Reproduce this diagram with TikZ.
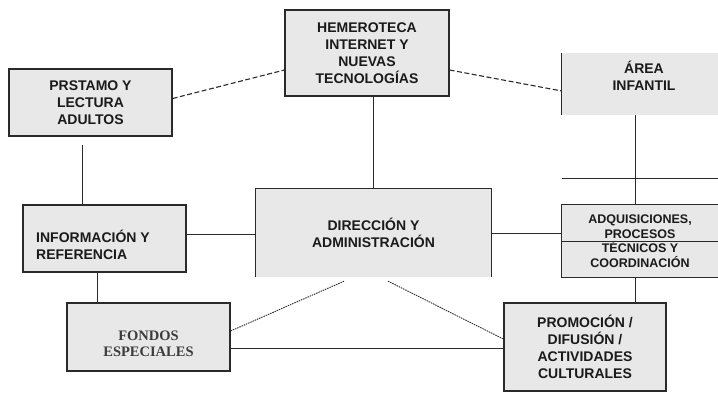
\documentclass[tikz,border=0pt]{standalone}
\usepackage{fontspec}
\setmainfont{Liberation Sans}
\newfontfamily\serifb{Liberation Serif}
\usetikzlibrary{calc}
\definecolor{boxfill}{HTML}{E8E8E8}
\definecolor{edge}{HTML}{2A2A2A}
\definecolor{ink}{HTML}{1A1A1A}
\begin{document}
\begin{tikzpicture}[x=1pt,y=-1pt,
  lbl/.style={inner sep=0pt, align=center, text=ink, font=\fontsize{14}{17}\selectfont\bfseries},
  box/.style={lbl, fill=boxfill, draw=edge, line width=1.2pt},
  fillonly/.style={lbl, fill=boxfill, draw=none},
  boxedge/.style={draw=edge, line width=1.2pt},
  conn/.style={draw=edge, line width=1pt},
  dashline/.style={draw=edge, line width=1.1pt, dash pattern=on 5pt off 2.5pt},
  dotline/.style={draw=edge, line width=0.9pt, dash pattern=on 1.5pt off 0.9pt}]
\useasboundingbox (0,0) rectangle (718,400);
\fill[white] (0,0) rectangle (718,400);

% boxes
\node[box, minimum width=164, minimum height=86] (hem) at (367,53) {HEMEROTECA\\INTERNET Y\\NUEVAS\\TECNOLOGÍAS};
\node[box, minimum width=163, minimum height=67] (prest) at (90.5,102.5) {PRSTAMO Y\\LECTURA\\ADULTOS};

\node[fillonly, minimum width=156, minimum height=62] (area) at (640,84) {};
\draw[boxedge] (area.north west) -- (area.south west);
\node[lbl] (areatxt) at (644,76) {ÁREA\\INFANTIL};

\node[fillonly, minimum width=235, minimum height=88] (dir) at (373.5,233) {DIRECCIÓN Y\\ADMINISTRACIÓN};
\draw[boxedge] (dir.south west) -- (dir.north west) -- (dir.north east) -- (dir.south east);

\node[box, minimum width=163, minimum height=67] (info) at (104.5,238.5) {};
\node[lbl, anchor=west, align=left] (infotxt) at (36,244.5) {INFORMACIÓN Y\\REFERENCIA};

\node[box, minimum width=163, minimum height=68] (fonds) at (148.5,337) {};
\node[lbl, text=ink!85, font=\serifb\fontsize{14.5}{16.5}\selectfont\bfseries] (fondstxt) at (148.5,344) {FONDOS\\ESPECIALES};

\node[fillonly, minimum width=156, minimum height=72, font=\fontsize{12.5}{14.6}\selectfont\bfseries] (adq) at (640,241) {ADQUISICIONES,\\PROCESOS\\TÉCNICOS Y\\COORDINACIÓN};
\draw[boxedge] (adq.north east) -- (adq.north west) -- (adq.south west) -- (adq.south east);
\draw[conn] (adq.west) -- (adq.east);

\node[box, minimum width=162, minimum height=88] (prom) at (585,347) {PROMOCIÓN /\\DIFUSIÓN /\\ACTIVIDADES\\CULTURALES};

% free horizontal line
\coordinate (h1) at (562,178);
\coordinate (h2) at (718,178);
\draw[conn] (h1) -- (h2);

% connectors
\draw[dashline] ([yshift=4pt]prest.east) -- ([yshift=-17pt]hem.west);
\draw[dashline] ([yshift=-17pt]hem.east) -- ([yshift=-7pt]area.west);

\coordinate (hemS) at ([xshift=6pt]hem.south);
\draw[conn] (hemS) -- (hemS |- dir.north);

\coordinate (prS) at ([xshift=-8.5pt,yshift=-8pt]prest.south);
\draw[conn] (prS) -- (prS |- info.north);

\coordinate (infE) at ([yshift=4.5pt]info.east);
\draw[conn] (infE) -- (infE -| dir.west);

\draw[conn] (dir.east) -- (dir.east -| adq.west);

\coordinate (infS) at ([xshift=-7.5pt]info.south);
\draw[conn] (infS) -- (infS |- fonds.north);

\draw[dotline] ([xshift=-29.5pt,yshift=-4pt]dir.south) -- ([yshift=6pt]fonds.east);
\draw[dotline] ([xshift=14.5pt,yshift=-4pt]dir.south) -- ([yshift=8pt]prom.west);

\coordinate (fonE) at ([yshift=-11pt]fonds.east);
\draw[conn] (fonE) -- (fonE -| prom.west);

\coordinate (areaS) at ([xshift=-5pt]area.south);
\draw[conn] (areaS) -- (areaS |- adq.north);

\coordinate (adqS) at ([xshift=-5pt]adq.south);
\draw[conn] (adqS) -- (adqS |- prom.north);
\end{tikzpicture}
\end{document}
